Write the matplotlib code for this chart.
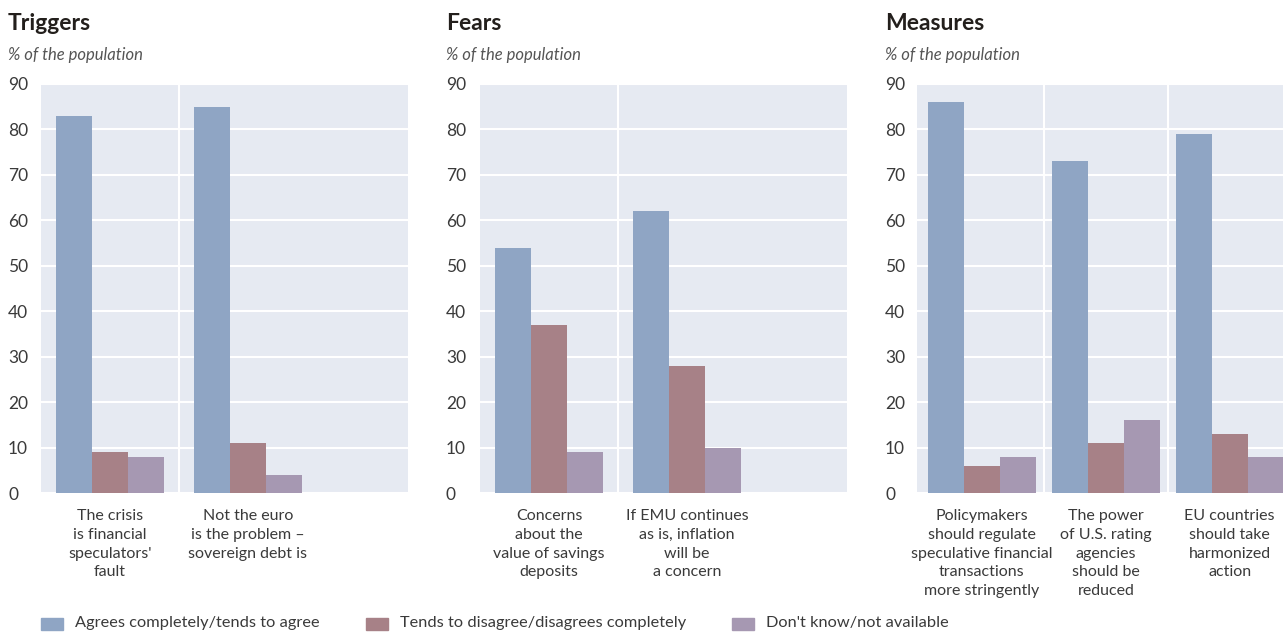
import matplotlib.pyplot as plt
from matplotlib.patches import Rectangle

# data
series_names = ['Agrees completely/tends to agree',
                'Tends to disagree/disagrees completely',
                "Don't know/not available"]
colors = ['#8fa5c4', '#a78187', '#a698b2']

triggers_labels = ["The crisis\nis financial\nspeculators'\nfault",
                   "Not the euro\nis the problem \u2013\nsovereign debt is"]
triggers_agree = [83, 85]
triggers_disagree = [9, 11]
triggers_dontknow = [8, 4]

fears_labels = ["Concerns\nabout the\nvalue of savings\ndeposits",
                "If EMU continues\nas is, inflation\nwill be\na concern"]
fears_agree = [54, 62]
fears_disagree = [37, 28]
fears_dontknow = [9, 10]

measures_labels = ["Policymakers\nshould regulate\nspeculative financial\ntransactions\nmore stringently",
                   "The power\nof U.S. rating\nagencies\nshould be\nreduced",
                   "EU countries\nshould take\nharmonized\naction"]
measures_agree = [86, 73, 79]
measures_disagree = [6, 11, 13]
measures_dontknow = [8, 16, 8]

plt.rcParams['font.family'] = ['Lato', 'DejaVu Sans']

W, H = 1283, 632
fig = plt.figure(figsize=(W / 100, H / 100), dpi=100)

BG = '#e6eaf2'
TXT = '#3a3a3a'


def px_axes(x0, x1, y0=84, y1=493):
    # figure-pixel box -> axes
    return fig.add_axes([x0 / W, 1 - y1 / H, (x1 - x0) / W, (y1 - y0) / H])


def panel(ax, title, title_x, labels, values, bar_w, xmin, xmax, tick_px):
    n = len(labels)
    ax.set_facecolor(BG)
    for s in ax.spines.values():
        s.set_visible(False)
    for i, vals in enumerate(values):
        xs = [g + (i - 1) * bar_w for g in range(n)]
        ax.bar(xs, vals, width=bar_w, color=colors[i], zorder=3)
    ax.set_ylim(0, 90)
    ax.set_xlim(xmin, xmax)
    ax.set_yticks(range(0, 91, 10))
    ax.yaxis.grid(True, color='white', linewidth=1.5, zorder=1)
    for g in range(n - 1):
        ax.axvline(g + 0.5, color='white', linewidth=1.5, zorder=1)
    ax.set_xticks([])
    ax.tick_params(axis='y', length=0, labelsize=12.5, labelcolor=TXT,
                   pad=tick_px * 0.72)
    for lab in ax.get_yticklabels():
        lab.set_horizontalalignment('left')
    for g, lab in enumerate(labels):
        ax.text(g, -3.6, lab, ha='center', va='top', fontsize=11.5,
                color=TXT, linespacing=1.42)
    fig.text(title_x / W, 1 - 24 / H, title, fontsize=16.5, fontweight='bold',
             color='#231f1c', va='center')
    fig.text(title_x / W, 1 - 55 / H, '% of the population', fontsize=12,
             style='italic', color='#555555', va='center')


ax1 = px_axes(41, 408)
panel(ax1, 'Triggers', 8, triggers_labels,
      [triggers_agree, triggers_disagree, triggers_dontknow],
      36 / 138, -0.5, 2.16, 33)

ax2 = px_axes(480, 847)
panel(ax2, 'Fears', 446, fears_labels,
      [fears_agree, fears_disagree, fears_dontknow],
      36 / 138, -0.5, 2.16, 34)

ax3 = px_axes(917, 1283)
panel(ax3, 'Measures', 885, measures_labels,
      [measures_agree, measures_disagree, measures_dontknow],
      36 / 124, -0.524, 2.43, 32)

# legend along the bottom
leg_x = [41, 366, 732]
for x, c, name in zip(leg_x, colors, series_names):
    fig.patches.append(Rectangle((x / W, 1 - 630 / H), 22 / W, 12 / H,
                                 transform=fig.transFigure, color=c))
    fig.text((x + 34) / W, 1 - 623 / H, name, fontsize=11.8, color=TXT,
             va='center')

fig.savefig('out.png', dpi=100, facecolor='white')
